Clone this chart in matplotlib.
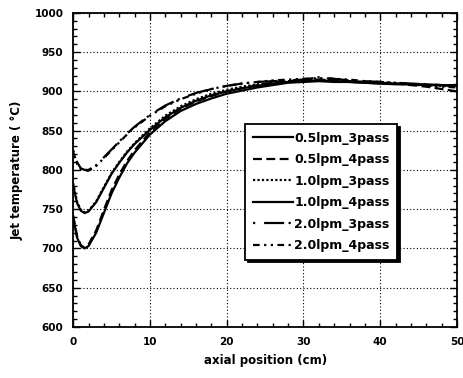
import matplotlib
matplotlib.use("Agg")
import matplotlib.pyplot as plt
from matplotlib.ticker import MultipleLocator

x = [0, 0.5, 1, 1.5, 2, 3, 4, 5, 6, 7, 8, 10, 12, 14, 16, 18, 20, 22, 24,
     26, 28, 30, 32, 34, 36, 38, 40, 42, 44, 46, 48, 50]

lpm05_3pass = [740, 714, 703, 700, 703, 720, 745, 770, 790, 808, 822, 845, 862, 875,
               884, 891, 897, 901, 905, 908, 911, 912, 913, 912, 912, 911, 910, 909,
               909, 908, 908, 907]
lpm05_4pass = [742, 716, 704, 701, 705, 723, 749, 774, 794, 811, 825, 848, 865, 878,
               887, 894, 900, 904, 908, 911, 913, 914, 915, 914, 913, 912, 911, 910,
               908, 906, 903, 900]
lpm10_3pass = [783, 760, 749, 746, 748, 760, 778, 796, 810, 823, 834, 853, 869, 881,
               890, 897, 902, 906, 909, 911, 913, 914, 915, 914, 913, 912, 911, 910,
               909, 908, 907, 906]
lpm10_4pass = [780, 758, 748, 745, 747, 759, 777, 795, 809, 822, 833, 851, 867, 879,
               888, 895, 900, 904, 907, 910, 912, 913, 914, 913, 912, 911, 910, 910,
               909, 909, 908, 908]
lpm20_3pass = [825, 810, 802, 800, 800, 806, 816, 826, 836, 846, 855, 870, 882, 891,
               898, 903, 907, 910, 912, 913, 914, 915, 918, 916, 914, 913, 912, 911,
               910, 909, 908, 907]
lpm20_4pass = [823, 808, 801, 799, 799, 805, 815, 825, 835, 845, 854, 869, 881, 890,
               897, 903, 907, 910, 912, 914, 915, 916, 917, 916, 915, 913, 912, 911,
               909, 907, 906, 905]

labels = ["0.5lpm_3pass", "0.5lpm_4pass", "1.0lpm_3pass", "1.0lpm_4pass",
          "2.0lpm_3pass", "2.0lpm_4pass"]
series = [lpm05_3pass, lpm05_4pass, lpm10_3pass, lpm10_4pass, lpm20_3pass, lpm20_4pass]
styles = ["-", (0, (4, 2)), (0, (1, 1)), "-", (0, (1, 4, 9, 2)), (0, (3, 2, 1, 2, 1, 2))]

plt.rcParams['font.family'] = ['DejaVu Sans']
plt.rcParams['font.weight'] = 'bold'

fig = plt.figure(figsize=(4.63, 3.78), dpi=100)
ax = fig.add_axes([0.158, 0.135, 0.829, 0.831])

for ys, lab, ls in zip(series, labels, styles):
    ax.plot(x, ys, color='black', linestyle=ls, linewidth=1.6, label=lab)

ax.set_xlim(0, 50)
ax.set_ylim(600, 1000)
ax.xaxis.set_major_locator(MultipleLocator(10))
ax.xaxis.set_minor_locator(MultipleLocator(2))
ax.yaxis.set_major_locator(MultipleLocator(50))
ax.yaxis.set_minor_locator(MultipleLocator(10))
ax.tick_params(which='both', direction='in', top=True, right=True, colors='black',
               width=1.0)
ax.tick_params(which='major', length=5, labelsize=7.5, pad=7)
ax.tick_params(which='minor', length=3)
for lbl in ax.get_xticklabels() + ax.get_yticklabels():
    lbl.set_fontweight('bold')
for s in ax.spines.values():
    s.set_linewidth(1.3)
ax.grid(True, which='major', color='black', linestyle=(0, (1, 2)), linewidth=0.8)

ax.set_xlabel("axial position (cm)", fontsize=8.5, fontweight='bold', labelpad=5)
ax.set_ylabel("Jet temperature ( °C)", fontsize=8.5, fontweight='bold', labelpad=8)

leg = ax.legend(loc='upper left', bbox_to_anchor=(0.448, 0.646), borderaxespad=0,
                frameon=True, fancybox=False, edgecolor='black', framealpha=1,
                handlelength=3.2, handletextpad=0.15, labelspacing=0.68,
                borderpad=0.6, shadow={'color': 'black', 'alpha': 1, 'shade': 1.0},
                prop={'weight': 'bold', 'size': 9, 'family': 'DejaVu Sans'})
leg.get_frame().set_linewidth(1.3)

fig.savefig("out.png", dpi=100)
